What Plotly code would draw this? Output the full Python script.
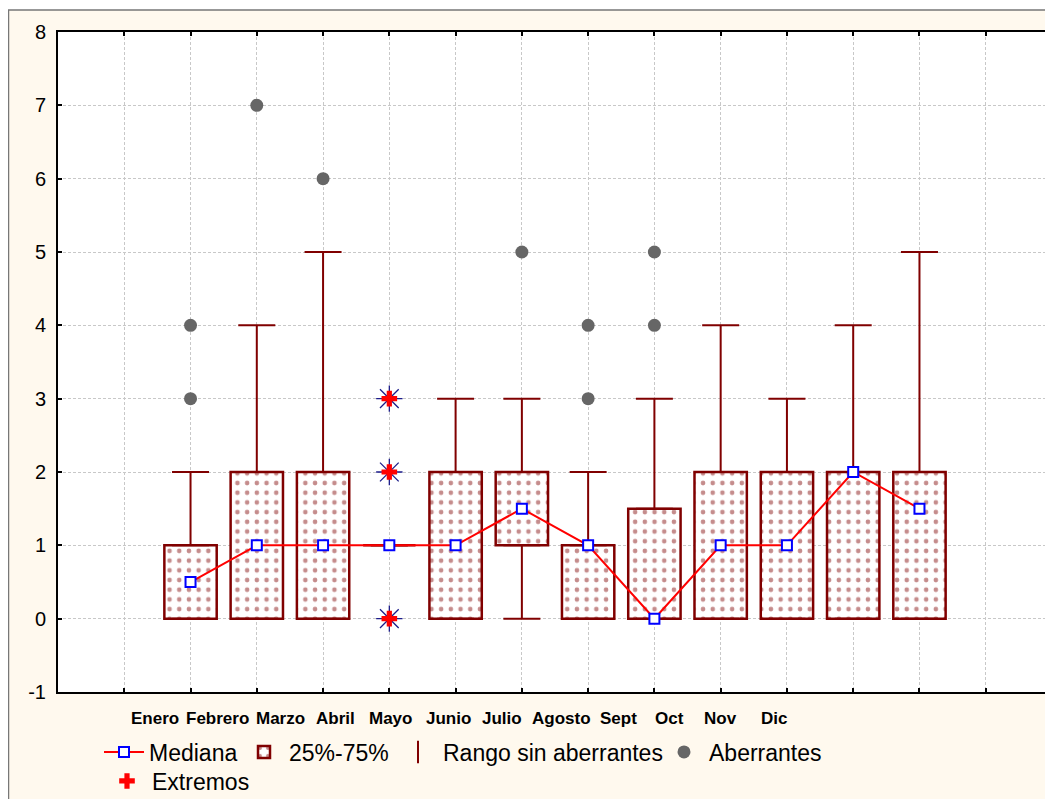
import plotly.graph_objects as go

# ---------------- data ----------------
months = ["Enero", "Febrero", "Marzo", "Abril", "Mayo", "Junio",
          "Julio", "Agosto", "Sept", "Oct", "Nov", "Dic"]
q1 = [0, 0, 0, 1, 0, 1, 0, 0, 0, 0, 0, 0]
q3 = [1, 2, 2, 1, 2, 2, 1, 1.5, 2, 2, 2, 2]
medians = [0.5, 1, 1, 1, 1, 1.5, 1, 0, 1, 1, 2, 1.5]
whisk_lo = [0, 0, 0, 1, 0, 0, 0, 0, 0, 0, 0, 0]
whisk_hi = [2, 4, 5, 1, 3, 3, 2, 3, 4, 3, 4, 5]
outliers = [[3, 4], [7], [6], [], [], [5], [3, 4], [4, 5], [], [], [], []]
extremes = [[], [], [], [0, 2, 3], [], [], [], [], [], [], [], []]
y_ticks = [-1, 0, 1, 2, 3, 4, 5, 6, 7, 8]

# label placement quirks of the original (data units on x axis)
label_x = [1.464, 2.414, 3.365, 4.195, 5.01, 5.90, 6.70, 7.60, 8.465, 9.235, 9.99, 10.80]

# ---------------- layout constants ----------------
OFF = 8                      # page body margin
W, H = 1053 - OFF, 799 - OFF
ML, MR, MT, MB = 58 - OFF, 1, 32 - OFF, 799 - 692
PW = W - ML - MR
PH = H - MT - MB
DARK = "#800000"
FONT = "Liberation Sans, Arial, sans-serif"

def px_x(px):
    return (px - OFF - ML) / PW

def px_y(py):
    return (H + OFF - MB - py) / PH

box_x = [i + 2 for i in range(len(months))]

ox, oy, ex, ey = [], [], [], []
for xi, vals in zip(box_x, outliers):
    for v in vals:
        ox.append(xi); oy.append(v)
for xi, vals in zip(box_x, extremes):
    for v in vals:
        ex.append(xi); ey.append(v)

fig = go.Figure()

# boxes 25%-75%
fig.add_trace(go.Bar(
    x=box_x, y=[b - a for a, b in zip(q1, q3)], base=q1, width=0.79,
    name="25%-75%", legend="legend2",
    marker=dict(color="white", line=dict(color=DARK, width=2.5),
                pattern=dict(shape=".", fgcolor="#8b1a1a", bgcolor="white",
                             size=9.7, solidity=0.18)),
    hoverinfo="skip",
))

# upper whiskers
fig.add_trace(go.Scatter(
    x=box_x, y=q3, mode="markers", showlegend=False,
    marker=dict(color="rgba(0,0,0,0)", size=1),
    error_y=dict(type="data", symmetric=False,
                 array=[h - b for h, b in zip(whisk_hi, q3)],
                 arrayminus=[0] * len(q3),
                 color=DARK, thickness=2, width=18.5),
    hoverinfo="skip",
))
# lower whiskers
fig.add_trace(go.Scatter(
    x=box_x, y=q1, mode="markers", showlegend=False,
    marker=dict(color="rgba(0,0,0,0)", size=1),
    error_y=dict(type="data", symmetric=False,
                 array=[0] * len(q1),
                 arrayminus=[a - l for a, l in zip(q1, whisk_lo)],
                 color=DARK, thickness=2, width=18.5),
    hoverinfo="skip",
))
# legend entry for whiskers
fig.add_trace(go.Scatter(
    x=[None], y=[None], mode="markers", name="Rango sin aberrantes",
    legend="legend3",
    marker=dict(symbol="line-ns-open", size=22, color=DARK,
                line=dict(color=DARK, width=2)),
))

# outliers
fig.add_trace(go.Scatter(
    x=ox, y=oy, mode="markers", name="Aberrantes", legend="legend4",
    marker=dict(symbol="circle", size=13, color="#666666"),
))

# extremes
fig.add_trace(go.Scatter(
    x=ex, y=ey, mode="markers", showlegend=False,
    marker=dict(symbol="asterisk-open", size=22, color="#1c1c8a",
                line=dict(color="#1c1c8a", width=1.3)),
))
fig.add_trace(go.Scatter(
    x=ex, y=ey, mode="markers", name="Extremos", legend="legend5",
    marker=dict(symbol="cross", size=13, color="red"),
))

# medians
fig.add_trace(go.Scatter(
    x=box_x, y=medians, mode="lines+markers", name="Mediana", legend="legend",
    line=dict(color="red", width=2),
    marker=dict(symbol="square", size=10, color="white",
                line=dict(color="blue", width=2)),
))

# month labels
for name, lx in zip(months, label_x):
    fig.add_annotation(x=lx, y=px_y(718), xref="x", yref="paper",
                       text=f"<b>{name}</b>", showarrow=False,
                       xanchor="center", yanchor="middle",
                       font=dict(family=FONT, size=17, color="black"))

shapes = [
    dict(type="rect", xref="paper", yref="paper", layer="below",
         x0=px_x(8.5), x1=px_x(1070), y0=px_y(820), y1=px_y(10),
         fillcolor="#FFF9EE", line=dict(color="#777777", width=1.5)),
    dict(type="rect", xref="paper", yref="paper", layer="below",
         x0=0, x1=1, y0=0, y1=1, fillcolor="white", line=dict(width=0)),
    dict(type="line", xref="paper", yref="paper", layer="above",
         x0=1, x1=1, y0=0, y1=1, line=dict(color="#777777", width=1)),
]

leg_common = dict(bgcolor="rgba(0,0,0,0)", borderwidth=0, orientation="v",
                  xanchor="left", yanchor="middle", itemwidth=40,
                  font=dict(family=FONT, size=23, color="black"))

fig.update_layout(
    width=W, height=H,
    margin=dict(l=ML, r=MR, t=MT, b=MB, autoexpand=False),
    paper_bgcolor="white", plot_bgcolor="white",
    font=dict(family=FONT, color="black"),
    shapes=shapes,
    barmode="overlay",
    legend=dict(x=px_x(99), y=px_y(752), **leg_common),
    legend2=dict(x=px_x(239), y=px_y(752), **leg_common),
    legend3=dict(x=px_x(393), y=px_y(752), **leg_common),
    legend4=dict(x=px_x(659), y=px_y(752), **leg_common),
    legend5=dict(x=px_x(102), y=px_y(781), **leg_common),
    xaxis=dict(range=[0, 15], tickvals=list(range(1, 15)), showticklabels=False,
               ticks="inside", ticklen=4, tickwidth=2, tickcolor="black",
               showgrid=True, gridcolor="#c8c8c8", griddash="3px,2px", gridwidth=1,
               showline=True, linecolor="black", linewidth=2, mirror="ticks",
               zeroline=False, fixedrange=True, automargin=False),
    yaxis=dict(range=[-1, 8], tickvals=y_ticks, ticktext=[str(v) for v in y_ticks],
               ticks="inside", ticklen=4, tickwidth=1.5, tickcolor="black",
               tickfont=dict(family=FONT, size=20, color="black"),
               ticklabelstandoff=6,
               showgrid=True, gridcolor="#c8c8c8", griddash="3px,2px", gridwidth=1,
               showline=True, linecolor="black", linewidth=2, mirror=False,
               zeroline=False, fixedrange=True, automargin=False),
)

fig.write_html("out.html")
